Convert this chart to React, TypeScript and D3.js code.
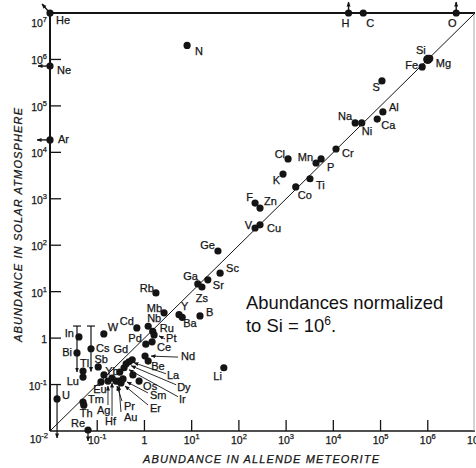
import * as d3 from 'd3';

const W = 476;
const H = 468;

// element symbols as printed on the chart, with abundance in Allende meteorite (x)
// and in solar atmosphere (y), both normalized to Si = 1e6
const elements = [
  'He', 'Ne', 'Ar', 'N', 'H', 'C', 'O', 'Si', 'Mg', 'Fe', 'S', 'Al', 'Ca', 'Na', 'Ni',
  'Cr', 'Mn', 'P', 'Cl', 'K', 'Ti', 'Co', 'F', 'Zn', 'V', 'Cu', 'Ge', 'Sc', 'Sr', 'Ga',
  'Zs', 'Rb', 'Mb', 'Y', 'Ba', 'B', 'Cd', 'Nb', 'Ru', 'Pt', 'Pd', 'Ce', 'Nd', 'Be', 'W',
  'In', 'Bi', 'Cs', 'Tl', 'Lu', 'Sb', 'Gd', 'La', 'Dy', 'Ir', 'Yb', 'Ho', 'Tb', 'Eu', 'Ag',
  'Hf', 'Pr', 'Au', 'Er', 'Sm', 'Os', 'U', 'Tm', 'Th', 'Re', 'Li',
];
const meteorite = [
  0.01, 0.01, 0.01, 8, 2.1e4, 4.3e4, 4.0e6, 1.0e6, 1.1e6, 7.6e5, 1.07e5, 1.12e5, 8.5e4, 2.9e4, 4.0e4,
  1.14e4, 4.3e3, 5.5e3, 1.1e3, 860, 3.2e3, 1.6e3, 220, 280, 220, 280, 36, 40, 22, 13.5,
  16.5, 1.75, 2.6, 5.4, 6.3, 15, 0.69, 1.2, 1.5, 1.6, 1.07, 1.45, 1.03, 1.2, 0.138,
  0.041, 0.0373, 0.0738, 0.05, 0.05, 0.105, 0.55, 0.47, 0.41, 0.37, 0.3, 0.57, 0.139, 0.12, 0.169,
  0.206, 0.25, 0.289, 0.319, 0.352, 0.77, 0.0141, 0.05, 0.052, 0.0638, 48,
];
const solar = [
  1e7, 7.2e5, 1.85e4, 2.0e6, 1e7, 1e7, 1e7, 1.0e6, 1.05e6, 6.9e5, 3.45e5, 7.4e4, 5.2e4, 4.3e4, 4.3e4,
  1.18e4, 5.9e3, 7.2e3, 7.2e3, 3.4e3, 2.7e3, 1.8e3, 810, 630, 235, 275, 75, 25, 18, 14.7,
  12.6, 9.4, 3.5, 3.2, 2.8, 3.0, 1.66, 1.8, 1.4, 1.17, 0.74, 0.83, 0.41, 0.32, 1.23,
  1.06, 0.48, 0.59, 0.195, 0.145, 0.24, 0.34, 0.31, 0.28, 0.23, 0.186, 0.161, 0.161, 0.114, 0.119,
  0.138, 0.119, 0.119, 0.108, 0.132, 0.119, 0.049, 0.042, 0.036, 0.0105, 0.23,
];

// upper-limit bars (meteorite value, top and bottom of the bar in solar units)
const limitNames = ['In', 'Cs', 'U', 'Re'];
const limitX = [0.0373, 0.0738, 0.0141, 0.0638];
const limitTop = [1.82, 1.82, 0.1, 0.0105];
const limitBottom = [0.186, 0.19, 0.0071, 0.0061];

const decades = [-1, 0, 1, 2, 3, 4, 5, 6, 7];

// label placement: [dx, dy, anchor] relative to the dot
const labelPos: Record<string, [number, number, string]> = {
  He: [6, 11, 'start'], Ne: [7, 8, 'start'], Ar: [8, 3, 'start'], N: [8, 10, 'start'],
  H: [-3, 14, 'middle'], C: [7, 14, 'middle'], O: [-4, 14, 'middle'],
  Si: [-2, -5, 'end'], Fe: [-4, 2, 'end'], Mg: [6, 9, 'start'], S: [-2, 10, 'end'],
  Al: [6, -1, 'start'], Ca: [4, 10, 'start'], Na: [-3, -3, 'end'], Ni: [0, 12, 'start'],
  Cr: [6, 8, 'start'], Mn: [-3, -2, 'end'], P: [6, 12, 'start'], Cl: [-3, -1, 'end'],
  K: [-3, 10, 'end'], Ti: [6, 10, 'start'], Co: [2, 12, 'start'], F: [-2, -2, 'end'],
  Zn: [4, -3, 'start'], V: [-3, 1, 'end'], Cu: [7, 7, 'start'], Ge: [-3, -2, 'end'],
  Sc: [6, -1, 'start'], Sr: [5, 9, 'start'], Ga: [0, -4, 'end'], Zs: [0, 15, 'middle'],
  Rb: [-2, -1, 'end'], Mb: [-2, -1, 'end'], Y: [2, -5, 'start'], Ba: [1, 10, 'start'],
  B: [6, 0, 'start'], Cd: [-3, -3, 'end'], Nb: [-1, -4, 'start'], Ru: [7, 1, 'start'],
  Pd: [-4, -2, 'end'], Ce: [5, 9, 'start'], Be: [3, 9, 'start'], W: [4, -3, 'start'],
  In: [-5, 0, 'end'], Bi: [-5, 3, 'end'], Cs: [5, 3, 'start'], Tl: [-3, -4, 'start'],
  Lu: [-4, 8, 'end'], Sb: [3, -4, 'middle'], Gd: [-4, -7, 'end'], Yb: [-1, 3, 'end'],
  Eu: [-1, 11, 'middle'], Tm: [5, 1, 'start'], Th: [-4, 12, 'start'], Os: [4, 9, 'start'],
  Li: [-2, 12, 'end'], U: [5, 0, 'start'], Re: [-3, -3, 'end'],
};

// labels that point to their dot with an arrow: label [dx, dy], arrow [x1, y1, x2, y2]
const pointers: Record<string, { label: [number, number]; arrow: number[] }> = {
  Ag: { label: [-11, 33], arrow: [0, 24, 0, 5] },
  Hf: { label: [-7, 47], arrow: [0, 38, 0, 5] },
  Pr: { label: [8, 29], arrow: [6, 20, 1, 5] },
  Au: { label: [5, 40], arrow: [2, 31, 0, 5] },
  Sm: { label: [27, 20], arrow: [25, 14, 4, 3] },
  Er: { label: [29, 29], arrow: [27, 22, 4, 3] },
  La: { label: [38, 17], arrow: [37, 12, 5, 1] },
  Dy: { label: [51, 27], arrow: [50, 21, 5, 2] },
  Ir: { label: [55, 35], arrow: [54, 29, 5, 2] },
  Nd: { label: [36, 4], arrow: [33, 1, 6, 0] },
  Pt: { label: [12, 7], arrow: [11, 4, 5, 1] },
};

// small arrows on dots that sit on the frame (lower/upper limits)
const edgeArrows: Record<string, number[]> = {
  He: [-1, -1, -8, -9],
  Ne: [-2, 0, -12, 0],
  Ar: [-2, 0, -13, 0],
  H: [0, -2, 0, -11],
  O: [0, -2, 0, -11],
};

const font = '"Liberation Sans", Arial, Helvetica, sans-serif';
const ink = '#141414';

function Pow({ e }: { e: number }) {
  if (e === 0) return <tspan>1</tspan>;
  return (
    <>
      <tspan>10</tspan>
      <tspan dy={-5} fontSize={7.5}>{e}</tspan>
    </>
  );
}

export default function App() {
  const x = d3.scaleLog().domain([1e-2, 1e7]).range([50, 475]);
  const y = d3.scaleLog().domain([1e-2, 1e7]).range([431, 13]);

  const pts = elements.map((name, i) => ({ name, cx: x(meteorite[i]), cy: y(solar[i]) }));

  return (
    <svg
      width={W}
      height={H}
      style={{ position: 'absolute', left: 0, top: 0, background: '#fff' }}
      fontFamily={font}
    >
      <defs>
        <marker id="ah" viewBox="0 0 10 10" refX="9" refY="5" markerWidth="5" markerHeight="5"
          orient="auto" markerUnits="userSpaceOnUse">
          <path d="M0,1 L10,5 L0,9 z" fill={ink} />
        </marker>
      </defs>

      {/* frame */}
      <line x1={x(1e-2)} x2={x(1e7)} y1={y(1e7)} y2={y(1e7)} stroke={ink} strokeWidth={2} />
      <line x1={x(1e-2)} x2={x(1e-2)} y1={y(1e7)} y2={y(1e-2)} stroke={ink} strokeWidth={2} />
      <line x1={x(1e-2)} x2={x(1e7)} y1={y(1e-2)} y2={y(1e-2)} stroke={ink} strokeWidth={1.6} />
      <line x1={x(1e7) - 1} x2={x(1e7) - 1} y1={y(1e7)} y2={y(1e-2)} stroke="#aaa" strokeWidth={1} />

      {/* diagonal y = x */}
      <line x1={x(1e-2)} y1={y(1e-2)} x2={x(1e7)} y2={y(1e7)} stroke={ink} strokeWidth={1} />

      {/* ticks */}
      {decades.filter((e) => e < 7).map((e) => (
        <g key={'t' + e}>
          <line x1={x(1e-2)} x2={x(1e-2) + 11} y1={y(10 ** e)} y2={y(10 ** e)} stroke={ink} strokeWidth={1.3} />
          <line x1={x(10 ** e)} x2={x(10 ** e)} y1={y(1e-2)} y2={y(1e-2) - 11} stroke={ink} strokeWidth={1.3} />
        </g>
      ))}

      {/* tick labels */}
      <g fontSize={10.5} fill={ink} stroke={ink} strokeWidth={0.25}>
        {decades.map((e) => (
          <text key={'xl' + e} x={x(10 ** e)} y={444} textAnchor="middle">
            <Pow e={e} />
          </text>
        ))}
        {decades.map((e) => (
          <text key={'yl' + e} x={47} y={y(10 ** e) + (e === 7 ? 14 : 5)} textAnchor="end">
            <Pow e={e} />
          </text>
        ))}
        <text x={48} y={443} textAnchor="end">
          <Pow e={-2} />
        </text>
      </g>

      {/* axis titles */}
      <text x={261} y={463} textAnchor="middle" fontSize={11} fontStyle="italic" fill={ink}
        stroke={ink} strokeWidth={0.25} textLength={236} lengthAdjust="spacing">
        ABUNDANCE IN ALLENDE METEORITE
      </text>
      <text transform="translate(22,225) rotate(-90)" textAnchor="middle" fontSize={11}
        fontStyle="italic" fill={ink} stroke={ink} strokeWidth={0.25} textLength={234} lengthAdjust="spacing">
        ABUNDANCE IN SOLAR ATMOSPHERE
      </text>

      {/* upper-limit bars */}
      {limitNames.map((n, i) => {
        const bx = x(limitX[i]);
        const top = y(limitTop[i]);
        return (
          <g key={'lim' + n} stroke={ink} strokeWidth={1.2}>
            {n !== 'Re' && n !== 'U' && <line x1={bx - 4} x2={bx + 4} y1={top} y2={top} />}
            <line x1={bx} x2={bx} y1={top} y2={y(limitBottom[i])} markerEnd="url(#ah)" />
          </g>
        );
      })}

      {/* edge arrows */}
      {pts.filter((p) => edgeArrows[p.name]).map((p) => {
        const a = edgeArrows[p.name];
        return (
          <line key={'ea' + p.name} x1={p.cx + a[0]} y1={p.cy + a[1]} x2={p.cx + a[2]} y2={p.cy + a[3]}
            stroke={ink} strokeWidth={1.4} markerEnd="url(#ah)" />
        );
      })}

      {/* pointer arrows */}
      {pts.filter((p) => pointers[p.name]).map((p) => {
        const a = pointers[p.name].arrow;
        return (
          <line key={'pa' + p.name} x1={p.cx + a[0]} y1={p.cy + a[1]} x2={p.cx + a[2]} y2={p.cy + a[3]}
            stroke={ink} strokeWidth={0.9} markerEnd="url(#ah)" />
        );
      })}

      {/* dots */}
      {pts.map((p) => (
        <circle key={'d' + p.name} cx={p.cx} cy={p.cy} r={p.name === 'Si' ? 4.6 : 3.6} fill={ink} />
      ))}

      {/* labels */}
      <g fontSize={11} fill={ink} stroke={ink} strokeWidth={0.25}>
        {pts.map((p) => {
          const l = labelPos[p.name];
          if (l) {
            return (
              <text key={'l' + p.name} x={p.cx + l[0]} y={p.cy + l[1]} textAnchor={l[2]}>
                {p.name}
              </text>
            );
          }
          const q = pointers[p.name];
          if (q) {
            return (
              <text key={'l' + p.name} x={p.cx + q.label[0]} y={p.cy + q.label[1]}>
                {p.name}
              </text>
            );
          }
          return null;
        })}
      </g>

      {/* note */}
      <g fontSize={18.4} fill="#111">
        <text x={246} y={309}>Abundances normalized</text>
        <text x={246} y={332}>
          to Si = 10<tspan dy={-7} fontSize={12}>6</tspan>
          <tspan dy={7}>.</tspan>
        </text>
      </g>
    </svg>
  );
}
